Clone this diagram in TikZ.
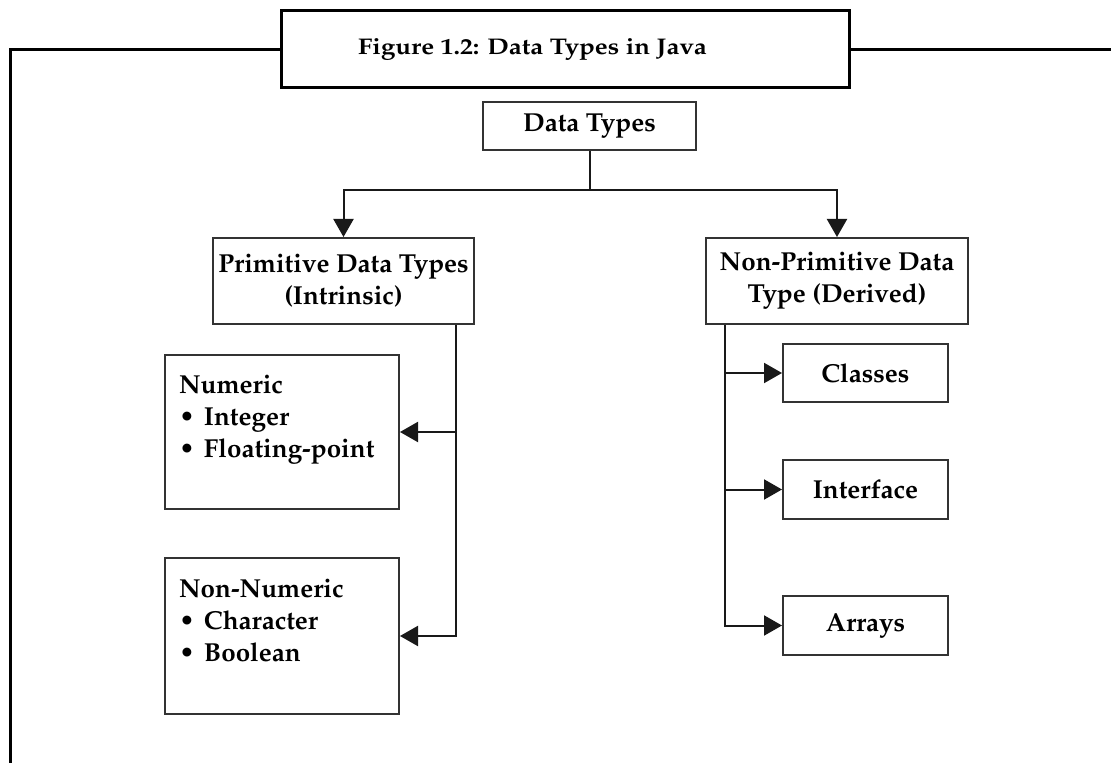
\documentclass[tikz,border=0pt]{standalone}
\usepackage[T1]{fontenc}
\usepackage{mathpazo}
\usetikzlibrary{arrows.meta}
\newcommand\pxlen{0.75pt}
\newcommand\itembul{\makebox[18.75pt][l]{\textbullet}}
\begin{document}
\begin{tikzpicture}[x=0.75pt,y=-0.75pt,
  frameline/.style={line width=2.25pt, draw=black},
  titlebox/.style={frameline, inner sep=0pt, font=\fontsize{17}{20}\selectfont\bfseries},
  box/.style={draw=black!80, line width=1.5pt, inner sep=0pt, align=center,
    font=\fontsize{19.5}{24}\selectfont\bfseries},
  listbox/.style={box, align=left, anchor=north west, inner xsep=14*\pxlen,
    text width=206*\pxlen},
  link/.style={line width=1.5pt, draw=black!90},
  arrowed/.style={-{Triangle[length=13.5pt,width=15pt]}}
]
\useasboundingbox (0,0) rectangle (1111,763);
\fill[white] (0,0) rectangle (1111,763);

% caption frame
\node[titlebox, minimum width=568*\pxlen, minimum height=77*\pxlen] (cap) at (565,49.5)
  {\scalebox{1.14}[1]{Figure 1.2: Data Types in Java}\hspace*{48.75pt}};
\draw[frameline] (cap.west) -- (10,49.5) -- (10,770);
\draw[frameline] (cap.east) -- (1115,49.5);

% root
\node[box, minimum width=213*\pxlen, minimum height=48*\pxlen] (dt) at (589.5,126) {Data Types};

% second level
\node[box, minimum width=261*\pxlen, minimum height=86*\pxlen] (prim) at (343.5,281)
  {Primitive Data Types\\(Intrinsic)};
\node[box, minimum width=262*\pxlen, minimum height=86*\pxlen] (nprim) at (837,281)
  {Non-Primitive Data\\Type (Derived)};

% primitive children
\node[listbox, minimum height=154*\pxlen] (num) at (164,354)
  {Numeric\\\itembul Integer\\\itembul Floating-point\\\mbox{}};
\node[listbox, minimum height=156*\pxlen] (nnum) at (164,557)
  {Non-Numeric\\\itembul Character\\\itembul Boolean\\\mbox{}};

% non-primitive children
\node[box, minimum width=165*\pxlen, minimum height=58*\pxlen] (cls) at (865.5,373) {Classes};
\node[box, minimum width=165*\pxlen, minimum height=59*\pxlen] (intf) at (865.5,489.5) {Interface};
\node[box, minimum width=165*\pxlen, minimum height=59*\pxlen] (arr) at (865.5,625.5) {Arrays};

% connectors
\draw[link] (dt.south) -- ++(0,39) coordinate (split);
\draw[link, arrowed] (split) -| (prim.north);
\draw[link, arrowed] (split) -| (nprim.north);

\coordinate (pstem) at ([xshift=-14.25pt]prim.south east);
\draw[link, arrowed] (pstem) |- (num.east);
\draw[link, arrowed] (pstem) |- (nnum.east);

\coordinate (nstem) at ([xshift=15pt]nprim.south west);
\draw[link, arrowed] (nstem) |- (cls.west);
\draw[link, arrowed] (nstem) |- (intf.west);
\draw[link, arrowed] (nstem) |- (arr.west);
\end{tikzpicture}
\end{document}
